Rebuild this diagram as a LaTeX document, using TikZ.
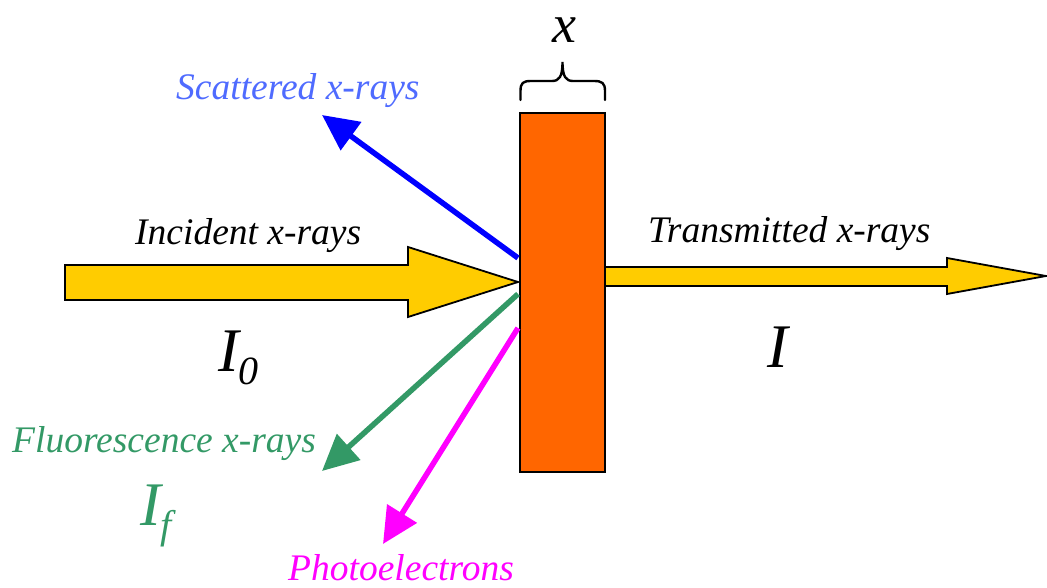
\documentclass[tikz,border=0pt]{standalone}
\usepackage{fontspec}
\setmainfont{Liberation Serif}
\usetikzlibrary{arrows.meta}
\definecolor{beamyellow}{HTML}{FFCC00}
\definecolor{slaborange}{HTML}{FF6600}
\definecolor{scatblue}{HTML}{0000FF}
\definecolor{scattext}{HTML}{4F6BFF}
\definecolor{fluogreen}{HTML}{339966}
\definecolor{photomag}{HTML}{FF00FF}
\tikzset{
  lbl/.style={anchor=base west,inner sep=0pt,font=\fontsize{37.5}{40}\selectfont\itshape},
  big/.style={anchor=base west,inner sep=0pt,font=\fontsize{62}{64}\selectfont\itshape},
  slab/.style={draw=black,line width=2pt,fill=slaborange,minimum width=85pt,minimum height=359pt,inner sep=0pt},
  beam/.style={draw=black,line width=1.8pt,fill=beamyellow,line join=miter},
  ray/.style={line width=5.5pt,-{Triangle[length=36pt,width=34pt]}},
  bracestyle/.style={draw=black,line width=2.4pt,line cap=round},
}
\newcommand{\subl}[1]{\raisebox{-0.22em}{\fontsize{40}{40}\selectfont #1}}
\begin{document}
\begin{tikzpicture}[x=1pt,y=-1pt]
\useasboundingbox (0,0) rectangle (1047,588);
% slab
\node[slab] (slab) at (562.5,292.5) {};
% brace and thickness label
\coordinate (brL) at (520.5,100);
\coordinate (brR) at (605,100);
\coordinate (brT) at (562.5,62);
\draw[bracestyle] (brL) -- (520.5,91) .. controls (520.5,83) and (523,81) .. (531,81)
  -- (552,81) .. controls (559,81) and (562.5,77) .. (brT)
  .. controls (562.5,77) and (566,81) .. (573,81)
  -- (594,81) .. controls (602,81) and (605,83) .. (605,91) -- (brR);
\node[lbl,font=\fontsize{54}{56}\selectfont\itshape] (xl) at (552,43) {x};
% incident beam
\coordinate (inTip) at (518,282);
\draw[beam] (65,265) -- (408,265) -- (408,247) -- (inTip) -- (408,317) -- (408,300) -- (65,300) -- cycle;
% transmitted beam
\coordinate (trTip) at (1046,276);
\draw[beam] (slab.east |- 0,267) -- (947,267) -- (947,258) -- (trTip) -- (947,294) -- (947,286) -- (slab.east |- 0,286);
% rays
\coordinate (scS) at (518,258);
\coordinate (scE) at (322,115);
\coordinate (flS) at (518,294);
\coordinate (flE) at (322,471);
\coordinate (phS) at (518,328);
\coordinate (phE) at (383,544);
\draw[ray,scatblue] (scS) -- (scE);
\draw[ray,fluogreen] (flS) -- (flE);
\draw[ray,photomag] (phS) -- (phE);
% labels
\node[lbl,text=scattext] (scl) at (176,100) {Scattered x-rays};
\node[lbl] (inl) at (135,245) {Incident x-rays};
\node[lbl] (trl) at (648,243) {Transmitted x-rays};
\node[lbl,text=fluogreen] (fll) at (12,452) {Fluorescence x-rays};
\node[lbl,text=photomag] (phl) at (288,580) {Photoelectrons};
\node[big] (I0) at (218,371) {I\subl{0}};
\node[big] (I1) at (767,367) {I};
\node[big,text=fluogreen] (If) at (140,525) {I\subl{f}};
\end{tikzpicture}
\end{document}
